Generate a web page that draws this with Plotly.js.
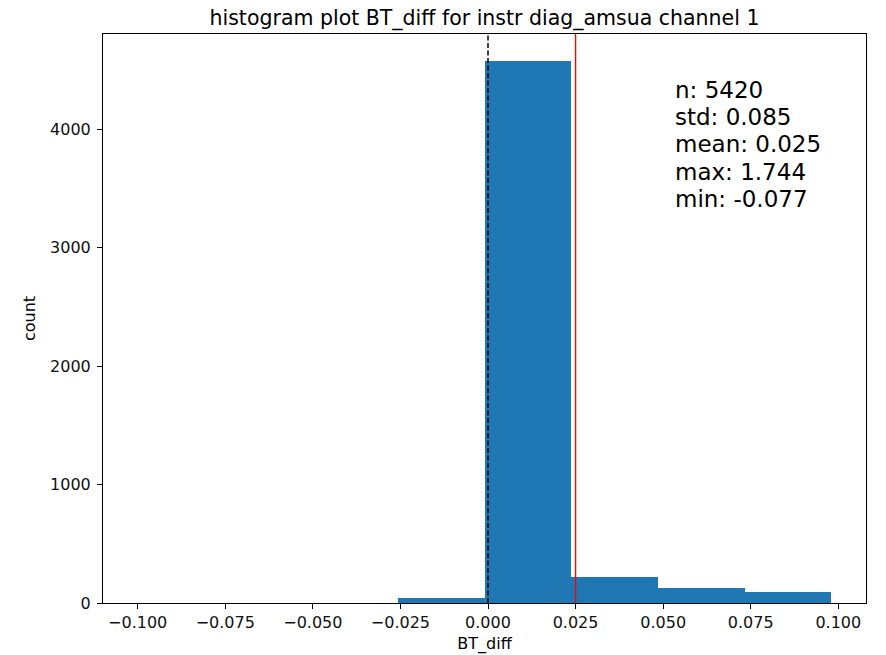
<!DOCTYPE html>
<html>
<head>
<meta charset="utf-8">
<script src="https://cdn.plot.ly/plotly-3.0.1.min.js"></script>
<style>html,body{margin:0;padding:0;background:#fff;}</style>
</head>
<body>
<div id="chart" style="width:886px;height:655px;"></div>
<script>
// Histogram bin edges (8 bins from -0.1 to 0.098)
const binEdges = [-0.1, -0.07525, -0.0505, -0.02575, -0.001, 0.02375, 0.0485, 0.07325, 0.098];
const binCounts = [0, 0, 0, 42, 4575, 220, 124, 93];
const statLabels = ["n: 5420", "std: 0.085", "mean: 0.025", "max: 1.744", "min: -0.077"];
const zeroLine = 0;
const meanValue = 0.025;
const xTicks = [-0.1, -0.075, -0.05, -0.025, 0, 0.025, 0.05, 0.075, 0.1];
const yTicks = [0, 1000, 2000, 3000, 4000];

const centers = [], widths = [];
for (let i = 0; i < binCounts.length; i++) {
  centers.push((binEdges[i] + binEdges[i + 1]) / 2);
  widths.push(binEdges[i + 1] - binEdges[i]);
}
const lo = binEdges[0], hi = binEdges[binEdges.length - 1];
const pad = (hi - lo) * 0.05;
const ymax = Math.max(...binCounts) * 1.05;

const W = 886, H = 655, mL = 103, mR = 20, mT = 34, mB = 52;
const plotH = H - mT - mB;
const font = "DejaVu Sans, sans-serif";

const trace = {
  type: "bar", x: centers, y: binCounts, width: widths,
  marker: {color: "#1f77b4", line: {width: 0}},
  hoverinfo: "x+y"
};

// stats text block: one annotation per line, matplotlib-like line spacing
const statAnnotations = statLabels.map((t, i) => ({
  xref: "paper", yref: "paper",
  x: (673 - mL) / (W - mL - mR), y: 1 - (90 + 27.2 * i - mT) / plotH,
  xanchor: "left", yanchor: "middle", align: "left", showarrow: false,
  text: t, font: {family: font, size: 23, color: "#000"}
}));

const layout = {
  width: W, height: H,
  margin: {l: mL, r: mR, t: mT, b: mB},
  paper_bgcolor: "#fff", plot_bgcolor: "#fff",
  showlegend: false, bargap: 0,
  font: {family: font, size: 16, color: "#000"},
  title: {text: "histogram plot BT_diff for instr diag_amsua channel 1",
          font: {family: font, size: 20.5, color: "#000"},
          xref: "paper", x: 0.5, xanchor: "center", y: 1 - 18/H, yanchor: "middle"},
  xaxis: {
    range: [lo - pad, hi + pad], tickvals: xTicks, tickformat: ".3f",
    ticks: "outside", ticklen: 5, tickwidth: 1, tickcolor: "#000",
    showline: true, linecolor: "#000", linewidth: 1, mirror: true,
    showgrid: false, zeroline: false,
    tickfont: {family: font, size: 16, color: "#111"},
    title: {text: "BT_diff", font: {family: font, size: 16, color: "#000"}, standoff: 6}
  },
  yaxis: {
    range: [0, ymax], tickvals: yTicks,
    ticks: "outside", ticklen: 5, tickwidth: 1, tickcolor: "#000",
    showline: true, linecolor: "#000", linewidth: 1, mirror: true,
    showgrid: false, zeroline: false,
    ticklabelstandoff: 3,
    tickfont: {family: font, size: 16, color: "#111"},
    title: {text: "count", font: {family: font, size: 16, color: "#000"}, standoff: 10}
  },
  shapes: [
    {type: "line", xref: "x", yref: "paper", x0: zeroLine, x1: zeroLine, y0: 0, y1: 1,
     line: {color: "#000", width: 1.5, dash: "5px,2.5px"}, layer: "above"},
    {type: "line", xref: "x", yref: "paper", x0: meanValue, x1: meanValue, y0: 0, y1: 1,
     line: {color: "#ff0000", width: 1.4}, layer: "above"}
  ],
  annotations: statAnnotations
};
Plotly.newPlot("chart", [trace], layout, {displayModeBar: false, staticPlot: true});
</script>
</body>
</html>
